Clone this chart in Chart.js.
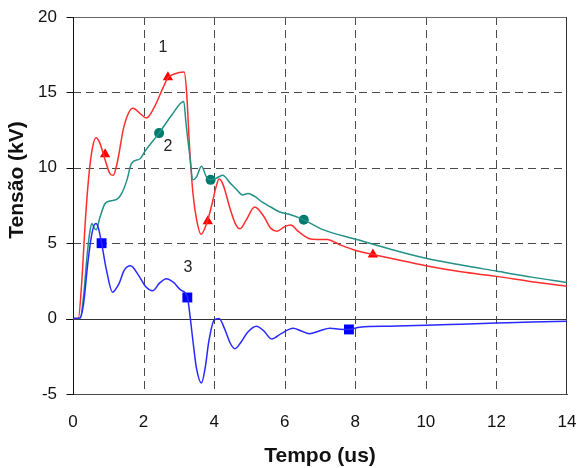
<!DOCTYPE html>
<html>
<head>
<meta charset="utf-8">
<script src="https://cdn.jsdelivr.net/npm/chart.js@4/dist/chart.umd.min.js"></script>
<style>
html,body{margin:0;padding:0;background:#fff;}
canvas{display:block;}
</style>
</head>
<body>
<canvas id="c" width="577" height="468"></canvas>
<script>
// ---- data ----
const xTicks = [0, 2, 4, 6, 8, 10, 12, 14];
const yTicks = [-5, 0, 5, 10, 15, 20];

const t1 = [0,0.15,0.25,0.35,0.45,0.55,0.65,0.75,0.9,1.05,1.14,1.25,1.45,1.7,1.9,2.08,2.3,2.55,2.7,2.85,3.15,3.22,3.3,3.4,3.5,3.63,3.8,3.95,4.05,4.14,4.25,4.45,4.6,4.73,4.9,5.15,5.4,5.6,5.78,6.0,6.17,6.4,6.7,6.9,7.2,7.56,8.04,8.5,9.0,10.0,11.0,12.0,13.0,14.0];
const v1 = [0,0,2.5,6.5,9.5,11.3,12.0,11.7,10.6,9.6,9.5,10.3,12.8,13.95,13.6,13.3,14.0,15.3,16.0,16.2,16.35,15.0,11.5,8.3,6.6,5.6,6.4,7.7,8.7,9.25,8.9,7.3,6.3,5.95,6.5,7.4,6.8,6.0,5.8,6.1,6.2,5.75,5.3,5.25,5.25,4.9,4.5,4.25,4.0,3.5,3.1,2.8,2.45,2.15];
const m1t = [0.91, 2.69, 3.82, 8.5];
const m1v = [10.9, 16.0, 6.45, 4.25];

const t2 = [0,0.2,0.3,0.4,0.48,0.54,0.6,0.66,0.75,0.9,1.05,1.24,1.38,1.53,1.66,1.9,2.04,2.44,2.8,3.14,3.2,3.3,3.4,3.5,3.64,3.78,3.9,4.05,4.24,4.45,4.64,4.8,4.96,5.15,5.38,5.6,5.86,6.15,6.54,7.08,8.04,9.0,10.0,11.0,12.0,13.0,14.0];
const v2 = [0,0,1.5,4.2,5.8,6.3,6.0,5.9,6.6,7.6,7.8,7.9,8.3,9.2,10.3,10.6,11.1,12.3,13.5,14.4,13.0,11.0,9.2,9.4,10.1,9.4,9.2,9.3,9.5,9.0,8.55,8.2,8.3,8.1,7.7,7.4,7.07,6.9,6.55,5.9,5.25,4.6,4.0,3.55,3.15,2.75,2.4];
const m2t = [2.44, 3.9, 6.54];
const m2v = [12.3, 9.2, 6.55];

const t3 = [0,0.2,0.3,0.43,0.55,0.65,0.72,0.81,0.95,1.12,1.3,1.45,1.63,1.85,2.05,2.26,2.45,2.65,2.85,3.05,3.24,3.3,3.4,3.5,3.64,3.75,3.85,4.0,4.14,4.3,4.45,4.59,4.75,4.95,5.2,5.4,5.63,5.9,6.24,6.45,6.7,7.0,7.28,7.55,7.82,8.13,9.0,10.0,11.0,12.0,13.0,14.0];
const v3 = [0,0.05,1.0,3.9,5.8,6.3,6.0,5.0,3.2,1.75,2.3,3.2,3.5,2.9,2.15,1.85,2.35,2.65,2.4,1.9,1.45,0.5,-1.5,-3.3,-4.27,-3.2,-1.5,-0.1,0.0,-0.7,-1.6,-2.0,-1.6,-0.9,-0.5,-0.8,-1.35,-1.0,-0.64,-0.8,-1.0,-0.8,-0.64,-0.7,-0.72,-0.57,-0.5,-0.44,-0.37,-0.3,-0.23,-0.17];
const m3t = [0.81, 3.24, 7.82];
const m3v = [5.0, 1.4, -0.72];

const curveLabels = ['1', '2', '3'];
const labelT = [2.55, 2.69, 3.26];
const labelV = [17.96, 11.4, 3.36];

const xTitle = 'Tempo (us)';
const yTitle = 'Tensão (kV)';

// ---- build ----
const pts = (t, v) => t.map((x, i) => ({x: x, y: v[i]}));
const RED = 'rgb(255,45,45)', TEAL = 'rgb(35,145,135)', BLUE = 'rgb(40,40,255)';

function lineDS(t, v, color) {
  return {data: pts(t, v), borderColor: color, borderWidth: 1.5, pointRadius: 0,
    fill: false, cubicInterpolationMode: 'monotone', showLine: true};
}
function markDS(t, v, color, style, r) {
  return {data: pts(t, v), borderColor: color, backgroundColor: color, showLine: false,
    pointStyle: style, pointRadius: r, pointBorderWidth: 0, pointHoverRadius: r};
}

const FONT = '"Liberation Sans", Arial, sans-serif';

const deco = {
  id: 'deco',
  beforeDatasetsDraw(chart) {
    const {ctx, chartArea: a, scales: {x, y}} = chart;
    ctx.save();
    ctx.lineWidth = 1;
    ctx.strokeStyle = '#4a4a4a';
    ctx.setLineDash([8, 5]);
    xTicks.forEach(v => {
      if (v === 0 || v === 14) return;
      const px = Math.round(x.getPixelForValue(v)) + 0.5;
      ctx.beginPath(); ctx.moveTo(px, a.top); ctx.lineTo(px, a.bottom); ctx.stroke();
    });
    yTicks.forEach(v => {
      if (v === 0 || v === 20) return;
      const py = Math.round(y.getPixelForValue(v)) + 0.5;
      ctx.beginPath(); ctx.moveTo(a.left, py); ctx.lineTo(a.right, py); ctx.stroke();
    });
    ctx.setLineDash([]);
    // top border
    ctx.strokeStyle = '#666';
    let py = Math.round(y.getPixelForValue(20)) + 0.5;
    ctx.beginPath(); ctx.moveTo(a.left, py); ctx.lineTo(a.right, py); ctx.stroke();
    // right border
    ctx.strokeStyle = '#333';
    const rx = Math.round(x.getPixelForValue(14)) - 0.5;
    ctx.beginPath(); ctx.moveTo(rx, a.top); ctx.lineTo(rx, a.bottom); ctx.stroke();
    // zero line
    ctx.strokeStyle = '#333';
    py = Math.round(y.getPixelForValue(0)) + 0.5;
    ctx.beginPath(); ctx.moveTo(a.left - 7, py); ctx.lineTo(a.right, py); ctx.stroke();
    // left axis + ticks
    ctx.strokeStyle = '#111';
    const lx = Math.round(a.left) + 0.5;
    ctx.beginPath(); ctx.moveTo(lx, a.top); ctx.lineTo(lx, a.bottom + 1); ctx.stroke();
    yTicks.forEach(v => {
      const p = Math.round(y.getPixelForValue(v)) + 0.5;
      ctx.beginPath(); ctx.moveTo(lx - 7, p); ctx.lineTo(lx, p); ctx.stroke();
    });
    ctx.restore();
  },
  afterDraw(chart) {
    const {ctx, chartArea: a, scales: {x, y}} = chart;
    ctx.save();
    ctx.fillStyle = '#222';
    ctx.font = '16px ' + FONT;
    ctx.textAlign = 'center'; ctx.textBaseline = 'middle';
    curveLabels.forEach((s, i) => ctx.fillText(s, x.getPixelForValue(labelT[i]), y.getPixelForValue(labelV[i])));
    ctx.fillStyle = '#111';
    ctx.font = 'bold 21px ' + FONT;
    ctx.fillText(xTitle, (a.left + a.right) / 2, 456);
    ctx.translate(17, 180);
    ctx.rotate(-Math.PI / 2);
    ctx.fillText(yTitle, 0, 0);
    ctx.restore();
  }
};

new Chart(document.getElementById('c'), {
  type: 'line',
  data: {
    datasets: [
      lineDS(t3, v3, BLUE),
      lineDS(t2, v2, TEAL),
      lineDS(t1, v1, RED),
      markDS(m3t, m3v, 'rgb(0,0,255)', 'rect', 7),
      markDS(m2t, m2v, 'rgb(0,122,110)', 'circle', 5),
      markDS(m1t, m1v, 'rgb(255,0,0)', 'triangle', 6)
    ]
  },
  options: {
    responsive: false,
    animation: false,
    layout: {padding: {top: 17, right: 10, left: 0, bottom: 0}},
    plugins: {legend: {display: false}, tooltip: {enabled: false}},
    scales: {
      x: {
        type: 'linear', min: 0, max: 14,
        afterBuildTicks: s => { s.ticks = xTicks.map(v => ({value: v})); },
        afterFit: s => { s.height = 74; s.paddingLeft = 0; s.paddingRight = 0; },
        ticks: {color: '#111', font: {family: FONT, size: 17}, padding: 18, maxRotation: 0, autoSkip: false},
        grid: {display: false, drawTicks: false},
        border: {display: true, color: '#4a4a4a', dash: [8, 5], width: 1}
      },
      y: {
        type: 'linear', min: -5, max: 20,
        afterBuildTicks: s => { s.ticks = yTicks.map(v => ({value: v})); },
        afterFit: s => { s.width = 73; s.paddingTop = 0; s.paddingBottom = 0; },
        ticks: {color: '#111', font: {family: FONT, size: 17}, padding: 16},
        grid: {display: false, drawTicks: false},
        border: {display: false}
      }
    }
  },
  plugins: [deco]
});
</script>
</body>
</html>
